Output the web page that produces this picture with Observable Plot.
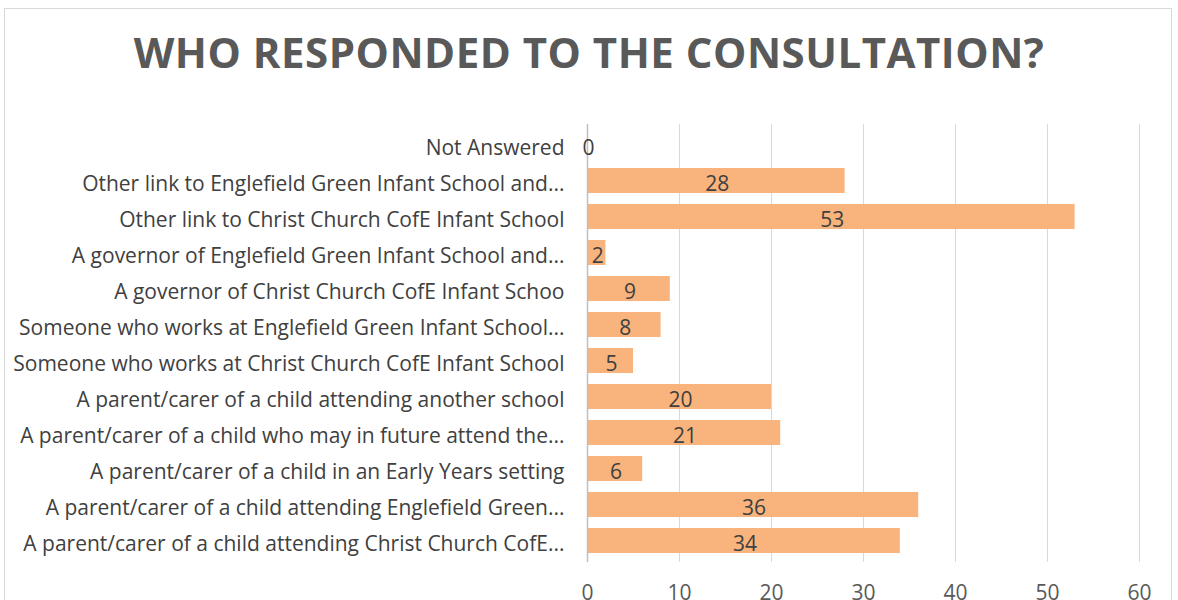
<!DOCTYPE html>
<html>
<head>
<meta charset="utf-8">
<script src="https://cdn.jsdelivr.net/npm/d3@7"></script>
<script src="https://cdn.jsdelivr.net/npm/@observablehq/plot@0.6"></script>
<style>
  html, body { margin: 0; padding: 0; background: #fff; overflow: hidden; }
  #wrap { position: relative; width: 1178px; height: 600px; }
  #frame { position: absolute; left: 4px; top: 8px; width: 1168px; height: 600px; border: 1px solid #d9d9d9; border-bottom: none; box-sizing: border-box; }
  #title { position: absolute; left: 0; top: 24px; width: 1178px; text-align: center; font-family: "Open Sans", sans-serif; font-weight: 700; font-size: 42px; color: #595959; margin: 0; line-height: 56px; letter-spacing: 0.5px; }
  #chart { position: absolute; left: 0; top: 0; }
</style>
</head>
<body>
<div id="wrap">
  <div id="frame"></div>
  <h2 id="title">WHO RESPONDED TO THE CONSULTATION?</h2>
  <div id="chart"></div>
</div>
<script>
const categories = [
  "Not Answered",
  "Other link to Englefield Green Infant School and...",
  "Other link to Christ Church CofE Infant School",
  "A governor of Englefield Green Infant School and...",
  "A governor of Christ Church CofE Infant Schoo",
  "Someone who works at Englefield Green Infant School...",
  "Someone who works at Christ Church CofE Infant School",
  "A parent/carer of a child attending another school",
  "A parent/carer of a child who may in future attend the...",
  "A parent/carer of a child in an Early Years setting",
  "A parent/carer of a child attending Englefield Green...",
  "A parent/carer of a child attending Christ Church CofE..."
];
const counts = [0, 28, 53, 2, 9, 8, 5, 20, 21, 6, 36, 34];
const xTicks = [0, 10, 20, 30, 40, 50, 60];

const data = categories.map((c, i) => ({category: c, count: counts[i]}));

const chart = Plot.plot({
  width: 1178,
  height: 600,
  marginLeft: 587,
  marginRight: 39,
  marginTop: 124,
  marginBottom: 38,
  style: {fontFamily: "Open Sans, sans-serif", fontSize: "21px", background: "transparent", overflow: "visible"},
  x: {domain: [0, 60], ticks: xTicks, label: null},
  y: {domain: categories, label: null, paddingInner: 0.3, paddingOuter: 0.2},
  marks: [
    Plot.ruleX(xTicks.filter(d => d > 0), {stroke: "#d9d9d9", strokeWidth: 1, strokeOpacity: 1, inset: 0}),
    Plot.barX(data, {x: "count", y: "category", fill: "#F8B47C"}),
    Plot.ruleX([0], {stroke: "#bfbfbf", strokeWidth: 1.5, strokeOpacity: 1}),
    Plot.axisY({tickSize: 0, tickPadding: 23, fontSize: 21, color: "#404040", label: null, dy: 3}),
    Plot.axisX({tickSize: 0, tickPadding: 23, fontSize: 21, color: "#595959", label: null, anchor: "bottom"}),
    Plot.text(data, {x: d => d.count / 2, y: "category", text: d => String(d.count), fill: "#404040", fontSize: 21, dy: 3.5, dx: 1})
  ]
});
document.getElementById("chart").appendChild(chart);
</script>
</body>
</html>
